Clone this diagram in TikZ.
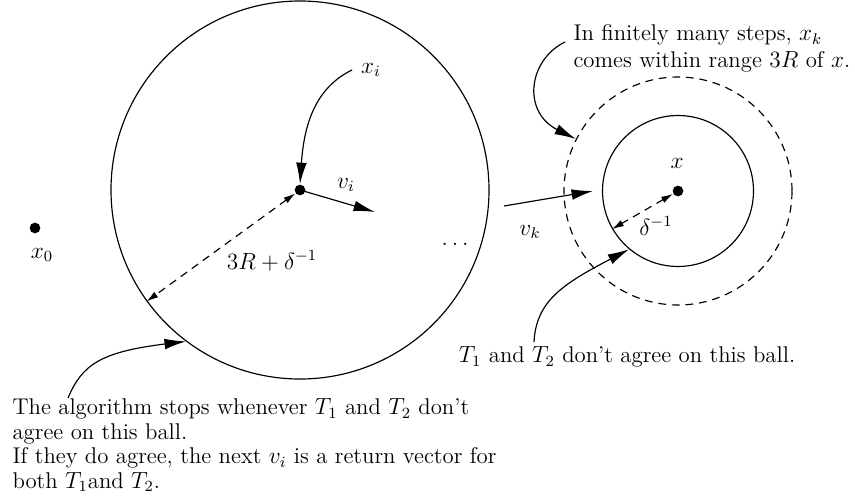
\documentclass[tikz,border=0pt]{standalone}
\usetikzlibrary{arrows.meta}
\begin{document}
\begin{tikzpicture}[x=0.514pt,y=-0.514pt,
  line width=0.6pt,
  every node/.style={font=\fontsize{11.7pt}{12.6pt}\selectfont},
  dot/.style={circle,fill,inner sep=0pt,minimum size=5.5pt},
  ball/.style={circle,draw,inner sep=0pt},
  dashball/.style={ball,dash pattern=on 4pt off 3pt},
  tipbig/.style={-{Latex[length=11pt,width=5.5pt]}},
  dasharr/.style={dash pattern=on 4pt off 3pt,{Latex[length=6pt,width=3.5pt]}-{Latex[length=6pt,width=3.5pt]}},
  lbl/.style={inner sep=0pt},
  txt/.style={inner sep=0pt,align=left}]
\useasboundingbox (0,0) rectangle (855,503);
% big ball
\node[ball,minimum size=194.3pt] (B) at (300,190) {};
\node[dot] (c1) at (300,190) {};
\node[dot] (x0) at (35,228) {};
\node[lbl] (x0l) at (42,255) {$x_0$};
\node[lbl] (xil) at (371,70) {$x_i$};
\node[lbl] (vil) at (346,185) {$v_i$};
\node[lbl] (rl) at (272,261) {$3R+\delta^{-1}$};
\node[lbl] (dots) at (455,244) {$\dots$};
% small balls
\node[dashball,minimum size=117.2pt] (D) at (678,191) {};
\node[ball,minimum size=77.6pt] (I) at (678,191) {};
\node[dot] (c2) at (678,191) {};
\node[lbl] (xl) at (677,163) {$x$};
\node[lbl] (dl) at (656,226) {$\delta^{-1}$};
\node[lbl] (vkl) at (530,232) {$v_k$};
% texts
\node[txt,anchor=north west] (top) at (573,24) {In finitely many steps, $x_k$\\[1pt] comes within range $3R$ of $x$.};
\node[txt] (t12) at (627,357) {$T_1$ and $T_2$ don't agree on this ball.};
\node[txt,anchor=north west] (bot) at (12,398) {The algorithm stops whenever $T_1$ and $T_2$ don't\\ agree on this ball.\\ If they do agree, the next $v_i$ is a return vector for\\ both $T_1$and $T_2$.};
% coordinates
\coordinate (viend) at (375,212);
\coordinate (vks) at (504,206);
\coordinate (vke) at (593,191);
\coordinate (xis) at (352,70);
\coordinate (tops) at (565,42);
\coordinate (t12s) at (534,342);
\coordinate (bots) at (68,398);
% connectors
\draw[tipbig] (xis) .. controls (315,88) and (304,125) .. (c1.north);
\draw[tipbig] (c1.center) -- (viend);
\draw[dasharr] (c1) -- (B.216);
\draw[tipbig] (vks) -- (vke);
\draw[dasharr] (c2) -- (I.210);
\draw[tipbig] (tops) .. controls (528,60) and (522,112) .. (D.153);
\draw[tipbig] (t12s) .. controls (536,300) and (565,283) .. (I.230);
\draw[tipbig] (bots) .. controls (82,365) and (100,352) .. (B.233);
\end{tikzpicture}
\end{document}
